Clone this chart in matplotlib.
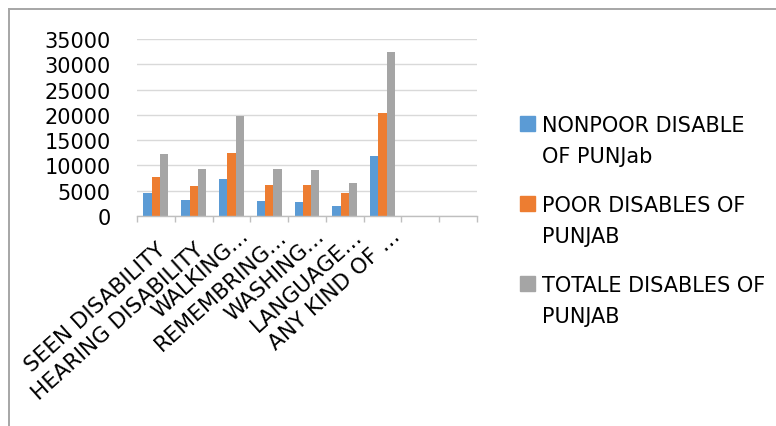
import matplotlib
matplotlib.use("Agg")
import matplotlib.pyplot as plt
import numpy as np
from matplotlib.lines import Line2D
from matplotlib.patches import Rectangle
from matplotlib.transforms import blended_transform_factory, offset_copy

# Disability counts in Punjab by type
categories = ["SEEN DISABILITY", "HEARING DISABILITY", "WALKING…", "REMEMBRING…",
              "WASHING…", "LANGUAGE…", "ANY KIND OF …"]
nonpoor = [4500, 3200, 7350, 3050, 2850, 1900, 11800]
poor = [7800, 5950, 12400, 6150, 6150, 4500, 20450]
total = [12300, 9200, 19800, 9200, 9000, 6450, 32350]

series_names = [["NONPOOR DISABLE", "OF PUNJab"],
                ["POOR DISABLES OF", "PUNJAB"],
                ["TOTALE DISABLES OF", "PUNJAB"]]
series_colors = ["#5B9BD5", "#ED7D31", "#A5A5A5"]
y_ticks = [0, 5000, 10000, 15000, 20000, 25000, 30000, 35000]
n_slots = 9  # the category axis keeps two trailing empty slots

plt.rcParams["font.family"] = ["DejaVu Sans"]
FS = 15

W, H = 776, 427
fig = plt.figure(figsize=(W / 100, H / 100), dpi=100)


def fx(px):
    return px / W


def fy(py):
    return 1 - py / H


ax = fig.add_axes([fx(137), fy(217), fx(477) - fx(137), fy(40) - fy(217)])

x = np.arange(len(categories))
width = 0.22
for k, (vals, color) in enumerate(zip([nonpoor, poor, total], series_colors)):
    ax.bar(x + (k - 1) * width, vals, width=width, color=color, zorder=2)

ax.set_xlim(-0.5, n_slots - 0.5)
ax.set_ylim(0, 35000)
ax.set_yticks(y_ticks)
ax.set_yticklabels([str(v) for v in y_ticks], fontsize=FS)
ax.yaxis.grid(True, color="#d9d9d9", linewidth=1)
ax.set_axisbelow(True)

for side in ["left", "right", "top"]:
    ax.spines[side].set_visible(False)
ax.spines["bottom"].set_color("#bfbfbf")
ax.spines["bottom"].set_linewidth(1)

ax.tick_params(axis="y", length=0, pad=19)
ax.set_xticks([])
ax.set_xticks(np.arange(-0.5, n_slots), minor=True)
ax.tick_params(axis="x", which="minor", length=4, width=1, color="#bfbfbf",
               direction="out")

# slanted category labels, anchored at their right-hand baseline end
base = blended_transform_factory(ax.transData, ax.transAxes)
for xi, label in zip(x, categories):
    dx, dy = (18.5, -21) if label.endswith("…") else (11, -35)
    tr = offset_copy(base, fig=fig, x=dx, y=dy, units="dots")
    ax.text(xi, 0, label, transform=tr, rotation=42, rotation_mode="anchor",
            ha="right", va="baseline", fontsize=15.5, clip_on=False)

# outer chart frame (left and top edges)
fig.add_artist(Line2D([fx(9), fx(9)], [fy(10), 0], color="#a6a6a6", lw=1.4,
                      transform=fig.transFigure))
fig.add_artist(Line2D([fx(9), 1], [fy(10), fy(10)], color="#a6a6a6", lw=1.4,
                      transform=fig.transFigure))

# legend on the right
for i, (lines, color) in enumerate(zip(series_names, series_colors)):
    top = 117 + 80 * i
    fig.add_artist(Rectangle((fx(520), fy(top + 15)), 15 / W, 15 / H,
                             transform=fig.transFigure, color=color))
    for j, line in enumerate(lines):
        fig.text(fx(542), fy(top + 15 + 31.5 * j), line, fontsize=FS,
                 va="baseline", ha="left", color="#000000")

fig.savefig("out.png", dpi=100)
